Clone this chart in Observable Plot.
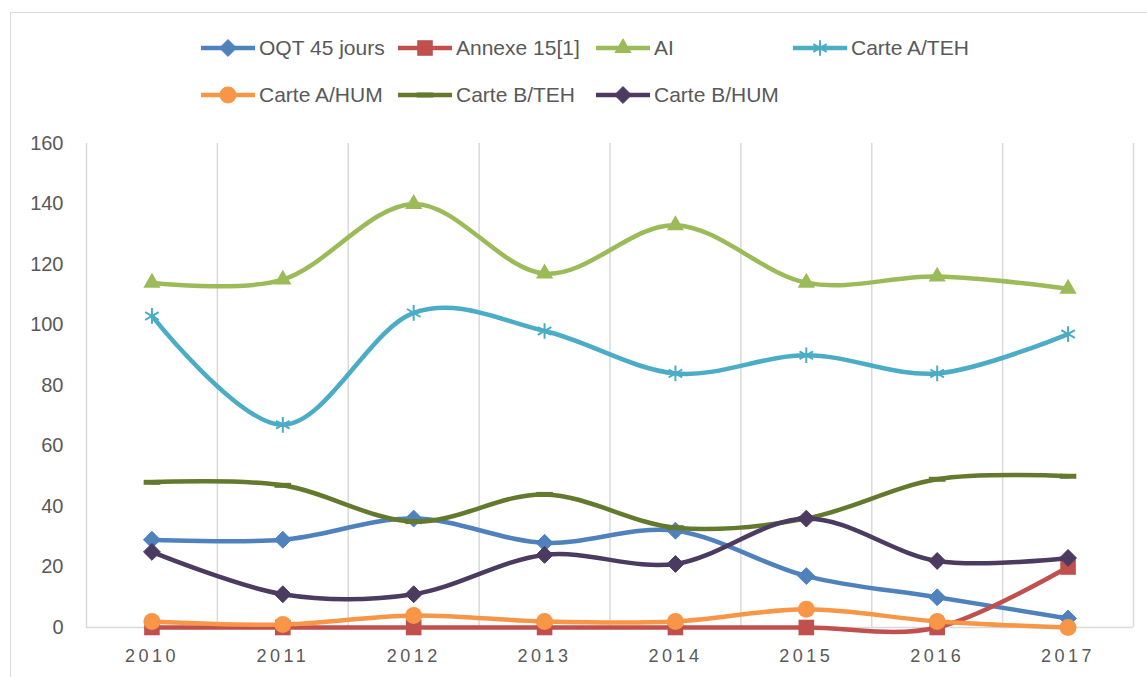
<!DOCTYPE html>
<html>
<head>
<meta charset="utf-8">
<script src="https://cdn.jsdelivr.net/npm/d3@7"></script>
<script src="https://cdn.jsdelivr.net/npm/@observablehq/plot@0.6"></script>
<style>
  html, body { margin: 0; padding: 0; background: #fff; }
  #wrap { position: relative; width: 1147px; height: 677px; overflow: hidden; font-family: "Liberation Sans", Arial, sans-serif; }
  #frame { position: absolute; left: 10px; top: 12px; width: 1200px; height: 800px; border: 1.5px solid #D9D9D9; box-sizing: border-box; }
  #legend { position: relative; height: 130px; }
  .item { position: absolute; display: flex; align-items: center; height: 30px; font-size: 21px; color: #595959; white-space: nowrap; }
  .item svg { margin-right: 4px; }
  #chart { position: relative; }
  #chart svg [aria-label="x-axis tick label"] text { letter-spacing: 3.5px; }
</style>
</head>
<body>
<div id="wrap">
  <div id="frame"></div>
  <div id="legend"></div>
  <div id="chart"></div>
</div>
<script>
const years = [2010, 2011, 2012, 2013, 2014, 2015, 2016, 2017];
const seriesNames = ["OQT 45 jours", "Annexe 15[1]", "AI", "Carte A/TEH", "Carte A/HUM", "Carte B/TEH", "Carte B/HUM"];
const oqt45   = [29, 29, 36, 28, 32, 17, 10, 3];
const annexe15 = [0, 0, 0, 0, 0, 0, 0, 20];
const ai      = [114, 115, 140, 117, 133, 114, 116, 112];
const carteATEH = [103, 67, 104, 98, 84, 90, 84, 97];
const carteAHUM = [2, 1, 4, 2, 2, 6, 2, 0];
const carteBTEH = [48, 47, 35, 44, 33, 36, 49, 50];
const carteBHUM = [25, 11, 11, 24, 21, 36, 22, 23];
const yTicks = [0, 20, 40, 60, 80, 100, 120, 140, 160];
const colors = ["#4F81BD", "#C0504D", "#9BBB59", "#4BACC6", "#F79646", "#62792E", "#4B3B61"];
const values = [oqt45, annexe15, ai, carteATEH, carteAHUM, carteBTEH, carteBHUM];

const dash = { draw(ctx, size) { const w = Math.sqrt(size) * 0.55; ctx.moveTo(-w, -2.5); ctx.lineTo(w, -2.5); ctx.lineTo(w, 2.5); ctx.lineTo(-w, 2.5); ctx.closePath(); } };
const markers = [
  { symbol: "diamond2", r: 7.6, stroke: true },
  { symbol: "square", r: 8.8 },
  { symbol: "triangle", r: 6.4 },
  { symbol: "asterisk", r: 7.4, strokeOnly: true },
  { symbol: "circle", r: 8.5 },
  { symbol: dash, r: 8.5 },
  { symbol: "diamond2", r: 7.6, stroke: true }
];

const rows = seriesNames.flatMap((name, i) => years.map((yr, j) => ({ series: name, idx: i, year: yr, value: values[i][j] })));

const marks = [
  Plot.ruleX(years.map(y => y - 0.5).concat([years[years.length - 1] + 0.5]), { y1: 0, y2: 160, stroke: "#D9D9D9", strokeWidth: 1.5 }),
  Plot.ruleY([0], { x1: years[0] - 0.5, x2: years[years.length - 1] + 0.5, stroke: "#D9D9D9", strokeWidth: 1.5 }),
  Plot.axisY({ ticks: yTicks, tickSize: 0, tickPadding: 23, fontSize: 20, color: "#595959", label: null }),
  Plot.axisX({ ticks: years, tickFormat: d => String(d), tickSize: 0, tickPadding: 22, fontSize: 18, color: "#595959", label: null })
];
seriesNames.forEach((name, i) => {
  const data = rows.filter(d => d.idx === i);
  marks.push(Plot.line(data, { x: "year", y: "value", stroke: colors[i], strokeWidth: 4.5, curve: "cardinal" }));
  const m = markers[i];
  if (m.strokeOnly) {
    marks.push(Plot.dot(data, { x: "year", y: "value", symbol: () => m.symbol, r: m.r, stroke: colors[i], strokeWidth: 2, fill: "none" }));
  } else {
    marks.push(Plot.dot(data, { x: "year", y: "value", symbol: () => m.symbol, r: m.r, fill: colors[i], stroke: m.stroke ? colors[i] : "none", strokeWidth: 1 }));
  }
});

const chart = Plot.plot({
  width: 1147,
  height: 547,
  marginTop: 13,
  marginBottom: 50,
  marginLeft: 86,
  marginRight: 14,
  x: { type: "linear", domain: [years[0] - 0.5, years[years.length - 1] + 0.5] },
  y: { domain: [0, 160] },
  symbol: { type: "identity" },
  style: { fontFamily: "Liberation Sans, Arial, sans-serif", background: "transparent" },
  marks
});
document.getElementById("chart").appendChild(chart);

// Legend
const legend = document.getElementById("legend");
const lefts = [201, 398, 596, 793];
const tops = [33, 80];
const symMap = { diamond2: d3.symbolDiamond2, square: d3.symbolSquare, triangle: d3.symbolTriangle, asterisk: d3.symbolAsterisk, circle: d3.symbolCircle };
seriesNames.forEach((name, i) => {
  const row = i < 4 ? 0 : 1, col = i < 4 ? i : i - 4;
  const div = document.createElement("div");
  div.className = "item";
  div.style.left = lefts[col] + "px";
  div.style.top = tops[row] + "px";
  const sw = d3.create("svg").attr("width", 54).attr("height", 24);
  sw.append("line").attr("x1", 0).attr("x2", 54).attr("y1", 12).attr("y2", 12).attr("stroke", colors[i]).attr("stroke-width", 4.5);
  const m = markers[i];
  const type = typeof m.symbol === "string" ? symMap[m.symbol] : m.symbol;
  const path = d3.symbol(type, Math.PI * m.r * m.r)();
  const p = sw.append("path").attr("d", path).attr("transform", "translate(27,12)");
  if (m.strokeOnly) p.attr("fill", "none").attr("stroke", colors[i]).attr("stroke-width", 2);
  else p.attr("fill", colors[i]).attr("stroke", m.stroke ? colors[i] : "none");
  div.appendChild(sw.node());
  const span = document.createElement("span");
  span.textContent = name;
  div.appendChild(span);
  legend.appendChild(div);
});
</script>
</body>
</html>
